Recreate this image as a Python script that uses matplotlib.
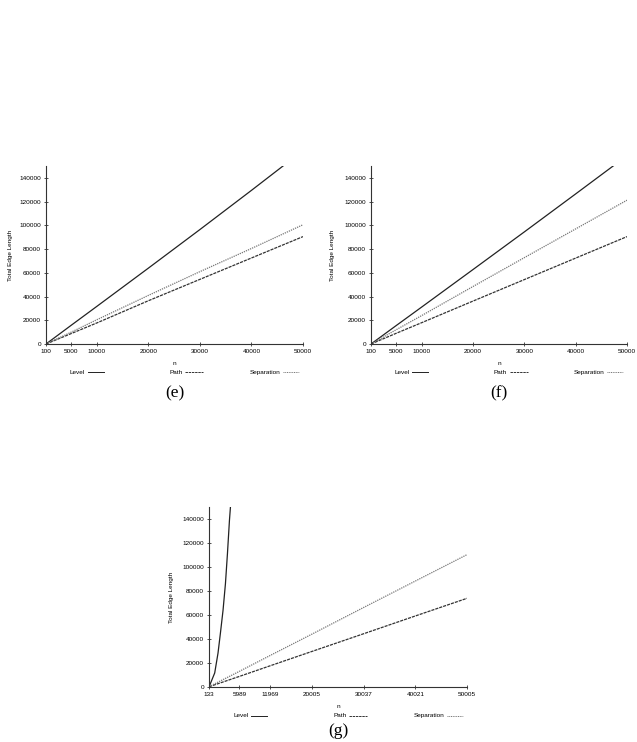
import matplotlib
matplotlib.use("Agg")
import matplotlib.pyplot as plt

# ---------------- data ----------------
# panel (e)
n_e = [100, 5000, 10000, 20000, 30000, 40000, 50000]
level_e = [0, 15800, 31800, 64000, 96500, 129500, 163000]
path_e = [0, 8800, 17800, 36500, 54500, 72500, 90500]
sep_e = [0, 10000, 20500, 41000, 61000, 80500, 100500]
xticks_e = [100, 5000, 10000, 20000, 30000, 40000, 50000]

# panel (f)
n_f = [100, 5000, 10000, 20000, 30000, 40000, 50000]
level_f = [0, 15500, 31200, 62800, 94500, 126500, 158700]
path_f = [0, 9000, 18000, 36200, 54300, 72400, 90500]
sep_f = [0, 12000, 24000, 48500, 72800, 97000, 121200]
xticks_f = [100, 5000, 10000, 20000, 30000, 40000, 50000]

# panel (g)
n_g = [133, 5989, 11969, 20005, 30037, 40021, 50005]
path_g = [200, 8800, 17700, 29600, 44400, 59200, 73900]
sep_g = [250, 13000, 26300, 44000, 66300, 88300, 110300]
n_level_g = [133, 1237, 1877, 2342, 2846, 3311, 3698, 4086, 4279, 4450]
level_g = [0, 11700, 28300, 45000, 63900, 86100, 111100, 138900, 150000, 162000]
xticks_g = [133, 5989, 11969, 20005, 30037, 40021, 50005]

yticks = [0, 20000, 40000, 60000, 80000, 100000, 120000, 140000]
series_names = ["Level", "Path", "Separation"]
captions = ["(e)", "(f)", "(g)"]

# ---------------- style ----------------
SANS = "Liberation Sans"
SERIF = "Liberation Serif"
TFS = 4.6
styles = {
    "Level": dict(color="#222222", linestyle="-", lw=0.9),
    "Path": dict(color="#333333", linestyle=(0, (2.5, 0.8)), lw=0.9),
    "Separation": dict(color="#777777", linestyle=(0, (1.0, 0.8)), lw=0.9),
}

W, H = 637, 742
fig = plt.figure(figsize=(W / 100, H / 100), dpi=100)


def make_axes(left, right, top, bottom):
    return fig.add_axes([left / W, 1 - bottom / H, (right - left) / W, (bottom - top) / H])


def draw_panel(ax, xs_list, ys_list, xticks, caption, ylab_off, cap_px, h_px):
    for name, xs, ys in zip(series_names, xs_list, ys_list):
        ax.plot(xs, ys, **styles[name])
    ax.set_xlim(xticks[0], xticks[-1])
    ax.set_ylim(0, 150000)
    ax.set_xticks(xticks)
    ax.set_xticklabels([str(v) for v in xticks], fontsize=TFS, family=SANS)
    ax.set_yticks(yticks)
    ax.set_yticklabels([str(v) for v in yticks], fontsize=TFS, family=SANS)
    for s in ["top", "right"]:
        ax.spines[s].set_visible(False)
    for s in ["left", "bottom"]:
        ax.spines[s].set_linewidth(0.8)
        ax.spines[s].set_color("#333333")
    ax.tick_params(axis="both", direction="inout", length=3, width=0.6,
                   color="#333333", pad=2)
    ax.set_ylabel("Total Edge Length", fontsize=TFS, family=SANS)
    ax.yaxis.set_label_coords(ylab_off, 0.5)
    ax.set_xlabel("n", fontsize=TFS, family=SANS)
    ax.xaxis.set_label_coords(0.5, -0.095)
    # key row
    ky = -0.16
    for name, tx, l0, l1 in [("Level", 0.152, 0.162, 0.224),
                             ("Path", 0.532, 0.542, 0.612),
                             ("Separation", 0.913, 0.922, 0.986)]:
        ax.text(tx, ky, name, transform=ax.transAxes, ha="right", va="center",
                fontsize=TFS, family=SANS)
        st = dict(styles[name])
        st["lw"] = 0.7
        ax.plot([l0, l1], [ky, ky], transform=ax.transAxes, clip_on=False, **st)
    ax.text(0.5, -cap_px / h_px, caption, transform=ax.transAxes, ha="center", va="top",
            fontsize=12.5, family=SERIF)


ax_e = make_axes(46, 303, 166, 344)
draw_panel(ax_e, [n_e, n_e, n_e], [level_e, path_e, sep_e], xticks_e, captions[0],
           -0.13, 41, 178)

ax_f = make_axes(371, 627, 166, 344)
draw_panel(ax_f, [n_f, n_f, n_f], [level_f, path_f, sep_f], xticks_f, captions[1],
           -0.14, 41, 178)

ax_g = make_axes(209, 467, 507, 687)
draw_panel(ax_g, [n_level_g, n_g, n_g], [level_g, path_g, sep_g], xticks_g, captions[2],
           -0.135, 36, 180)

fig.savefig("out.png", dpi=100, facecolor="white")
